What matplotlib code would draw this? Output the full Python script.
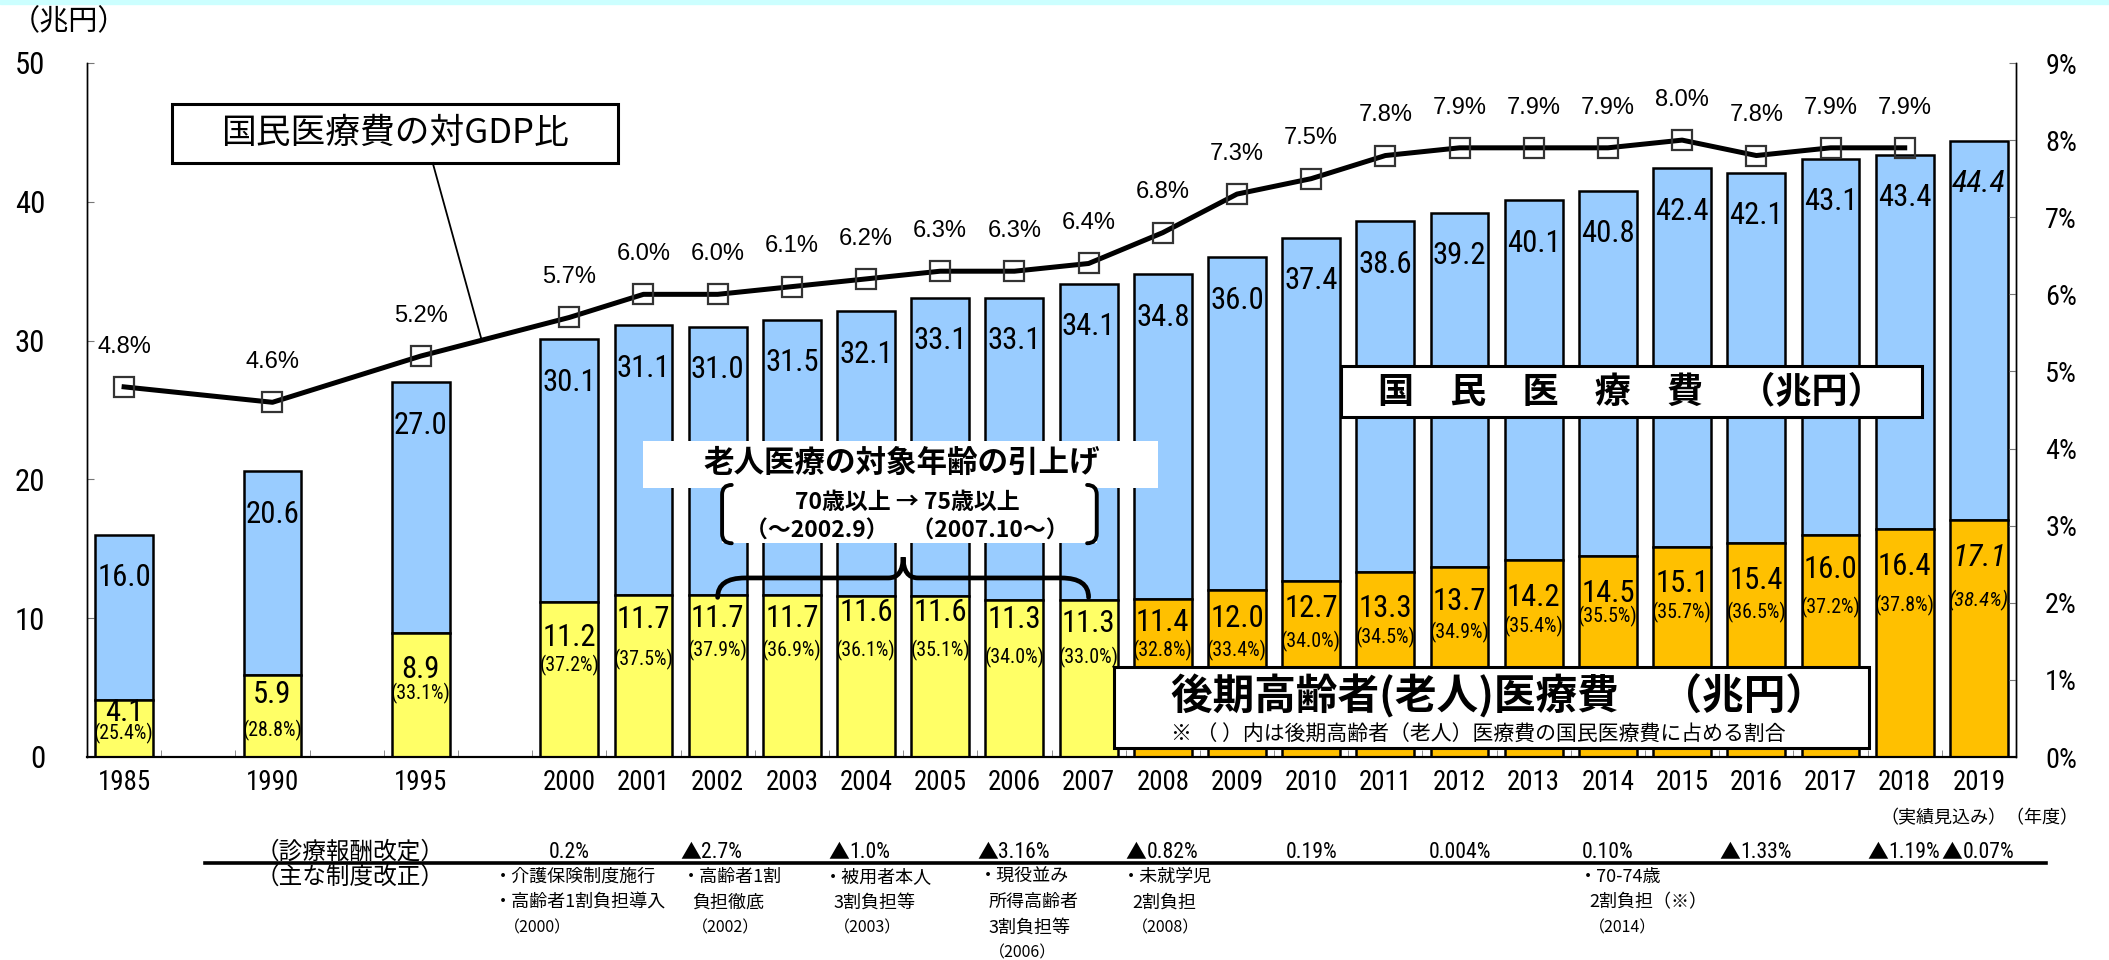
import os
import matplotlib
matplotlib.use('Agg')
import matplotlib.pyplot as plt
from matplotlib import font_manager as fm
from matplotlib.patches import Rectangle, PathPatch
from matplotlib.path import Path
from matplotlib.lines import Line2D
from matplotlib.transforms import blended_transform_factory
from matplotlib.textpath import TextToPath
import numpy as np

# ---------------- data ----------------
years = ['1985', '1990', '1995'] + [str(y) for y in range(2000, 2020)]
total = [16.0, 20.6, 27.0, 30.1, 31.1, 31.0, 31.5, 32.1, 33.1, 33.1, 34.1,
         34.8, 36.0, 37.4, 38.6, 39.2, 40.1, 40.8, 42.4, 42.1, 43.1, 43.4, 44.4]
elderly = [4.1, 5.9, 8.9, 11.2, 11.7, 11.7, 11.7, 11.6, 11.6, 11.3, 11.3,
           11.4, 12.0, 12.7, 13.3, 13.7, 14.2, 14.5, 15.1, 15.4, 16.0, 16.4, 17.1]
share = [25.4, 28.8, 33.1, 37.2, 37.5, 37.9, 36.9, 36.1, 35.1, 34.0, 33.0,
         32.8, 33.4, 34.0, 34.5, 34.9, 35.4, 35.5, 35.7, 36.5, 37.2, 37.8, 38.4]
gdp_years = years[:-1]
gdp_ratio = [4.8, 4.6, 5.2, 5.7, 6.0, 6.0, 6.1, 6.2, 6.3, 6.3, 6.4,
             6.8, 7.3, 7.5, 7.8, 7.9, 7.9, 7.9, 8.0, 7.8, 7.9, 7.9]
slot_labels = ['1985', '', '1990', '', '1995', ''] + [str(y) for y in range(2000, 2020)]
koki_start = 2008  # 後期高齢者医療制度
estimate_year = '2019'  # 実績見込み (italic)

rev_years = ['2000', '2002', '2004', '2006', '2008', '2010', '2012', '2014', '2016', '2018', '2019']
rev_rates = ['0.2%', '▲2.7%', '▲1.0%', '▲3.16%', '▲0.82%', '0.19%', '0.004%', '0.10%',
             '▲1.33%', '▲1.19%', '▲0.07%']
reform_lines = [
    ['・介護保険制度施行', '・高齢者1割負担導入', '（2000）'],
    ['・高齢者1割', '負担徹底', '（2002）'],
    ['・被用者本人', '3割負担等', '（2003）'],
    ['・現役並み', '所得高齢者', '3割負担等', '（2006）'],
    ['・未就学児', '2割負担', '（2008）'],
    ['・70-74歳', '2割負担（※）', '（2014）'],
]

# ---------------- layout (label placement) ----------------
eld_drop = [0.9, 1.4, 2.6, 2.6, 1.8, 1.7, 1.7, 1.2, 1.2, 1.4, 1.7, 1.7, 2.0, 2.0,
            2.6, 2.5, 2.7, 2.7, 2.6, 2.7, 2.5, 2.7, 2.7]
pct_gap = [1.5, 2.6, 1.7, 2.0, 2.9, 2.3, 2.3, 2.7, 2.7, 2.7, 2.4, 2.0, 2.3, 2.4,
           2.1, 2.2, 2.1, 1.7, 2.1, 2.3, 2.7, 2.8, 3.1]
reform_left_px = [494, 682, 824, 979, 1122, 1579]

W, H = 2109, 960
JP = 'Noto Sans CJK JP'
JPF = [JP, 'DejaVu Sans']


# ---------------- condensed font lookup ----------------
def find_condensed(italic=False):
    rank = [('liberation', 0), ('roboto', 1), ('noto', 2), ('open', 3), ('dejavu', 4)]
    best = None
    for f in fm.fontManager.ttflist:
        fn = os.path.basename(f.fname).lower()
        if 'cjk' in fn:
            continue
        if not ('condensed' in fn or 'narrow' in fn):
            continue
        is_it = ('italic' in fn or 'oblique' in fn)
        if is_it != italic:
            continue
        if any(k in fn for k in ('bold', 'light', 'semi', 'extra', 'ultra', 'thin',
                                 'medium', 'black')):
            continue
        r = next((v for k, v in rank if k in fn), 9)
        if best is None or r < best[0]:
            best = (r, f)
    return best[1] if best else None


cond = find_condensed()
cond_it = find_condensed(italic=True)
if cond is not None:
    FP_BASE = fm.FontProperties(fname=cond.fname)
else:
    FP_BASE = fm.FontProperties(family='Liberation Sans')
if cond_it is not None:
    FP_IT = fm.FontProperties(fname=cond_it.fname)
else:
    FP_IT = fm.FontProperties(family='Liberation Sans', style='italic')


def digit_em(fp):
    p = fp.copy()
    p.set_size(100)
    w, _, _ = TextToPath().get_text_width_height_descent('0123456789', p, ismath=False)
    return w / 1000.0


NS = min(1.1, 0.456 / digit_em(FP_BASE))
NS_IT = min(1.1, 0.456 / digit_em(FP_IT))


def numfp(size, italic=False):
    if italic:
        p = FP_IT.copy()
        p.set_size(size * NS_IT)
    else:
        p = FP_BASE.copy()
        p.set_size(size * NS)
    return p


plt.rcParams['font.family'] = ['Liberation Sans', JP, 'DejaVu Sans']

fig = plt.figure(figsize=(W / 100, H / 100), dpi=100)
fig.patches.append(Rectangle((0, 1 - 4 / H), 1, 4 / H, transform=fig.transFigure,
                             color='#CCFFFF', zorder=0))


def P(x, y):
    return (x / W, 1 - y / H)


ax = fig.add_axes([87 / W, 1 - 757 / H, (2016 - 87) / W, (757 - 63) / H])
ax.set_xlim(-0.5, len(slot_labels) - 0.5)
ax.set_ylim(0, 50)
ax2 = ax.twinx()
ax2.set_ylim(0, 9)

xs = np.array([slot_labels.index(y) for y in years])
tot = np.array(total)
eld = np.array(elderly)
eld_colors = ['#FFC000' if int(y) >= koki_start else '#FFFF66' for y in years]

ax.bar(xs, tot - eld, bottom=eld, width=0.78, color='#99CCFF', edgecolor='black',
       linewidth=1.8, zorder=2)
ax.bar(xs, eld, width=0.78, color=eld_colors, edgecolor='black', linewidth=1.8, zorder=2)

for i, y in enumerate(years):
    it = (y == estimate_year)
    ax.text(xs[i], tot[i] - 3.1, f'{tot[i]:.1f}', ha='center', va='center',
            fontproperties=numfp(24, it), zorder=3)
    ly = eld[i] - eld_drop[i]
    ax.text(xs[i], ly, f'{eld[i]:.1f}', ha='center', va='center',
            fontproperties=numfp(24, it), zorder=3)
    ax.text(xs[i], ly - pct_gap[i], f'({share[i]:.1f}%)', ha='center', va='center',
            fontproperties=numfp(15.5, it), zorder=3)

# GDP ratio line
gx = np.array([slot_labels.index(y) for y in gdp_years])
ax2.plot(gx, gdp_ratio, color='black', lw=3.6, marker='s', ms=15, mfc='none',
         mec='#333333', mew=1.6, zorder=5)
for xv, g in zip(gx, gdp_ratio):
    ax2.annotate(f'{g:.1f}%', (xv, g), xytext=(0, 29), textcoords='offset points',
                 ha='center', va='center', fontsize=17, family=['Liberation Sans', 'DejaVu Sans'])

# axes styling
for a in (ax, ax2):
    a.spines['top'].set_visible(False)
    a.spines['left'].set_linewidth(1.0)
    a.spines['right'].set_linewidth(1.0)
    a.spines['bottom'].set_linewidth(1.5)
ax.set_yticks(range(0, 51, 10))
ax.tick_params(axis='y', direction='in', length=5, color='#777777', pad=30)
for lbl in ax.get_yticklabels():
    lbl.set_fontproperties(numfp(24))
ax2.set_yticks(range(0, 10))
ax2.set_yticklabels([f'{v}%' for v in range(0, 10)])
ax2.tick_params(axis='y', direction='in', length=5, color='#777777', pad=21)
for lbl in ax2.get_yticklabels():
    lbl.set_fontproperties(numfp(22))
ax.set_xticks(range(len(slot_labels)))
ax.set_xticklabels(slot_labels)
ax.tick_params(axis='x', which='major', length=0, pad=9)
for lbl in ax.get_xticklabels():
    lbl.set_fontproperties(numfp(21))
ax.set_xticks(np.arange(-0.5, len(slot_labels), 1.0), minor=True)
ax.tick_params(axis='x', which='minor', direction='in', length=5, color='#777777')

# (兆円)
fig.text(*P(11, 22), '（兆円）', fontsize=21, family=JPF, va='center', ha='left')

# ---- GDP ratio label box with leader line ----
ax.add_patch(Rectangle((0.645, 42.8), 6.66 - 0.645, 47.05 - 42.8, facecolor='white',
                       edgecolor='black', lw=2.2, zorder=6))
ax.text(3.65, 44.95, '国民医療費の対GDP比', ha='center', va='center', fontsize=25,
        family=JPF, zorder=7)
lx = 4.82
ly_pct = np.interp(lx, gx, gdp_ratio)
ax.plot([4.16, lx], [42.8, ly_pct * 50 / 9], color='black', lw=1.3, zorder=6)

# ---- 国民医療費 label ----
ax.add_patch(Rectangle((16.4, 24.5), 24.23 - 16.4, 28.2 - 24.5, facecolor='white',
                       edgecolor='black', lw=2.2, zorder=6))
ax.text(20.31, 26.3, '国　民　医　療　費　（兆円）', ha='center', va='center',
        fontsize=26, fontweight='bold', family=JPF, zorder=7)

# ---- 後期高齢者 label ----
ax.add_patch(Rectangle((13.34, 0.65), 23.52 - 13.34, 6.47 - 0.65, facecolor='white',
                       edgecolor='black', lw=2.2, zorder=6))
ax.text(14.11, 4.4, '後期高齢者(老人)医療費　（兆円）', ha='left', va='center',
        fontsize=30, fontweight='bold', family=JPF, zorder=7)
ax.text(14.11, 1.6, '※ （ ）内は後期高齢者（老人）医療費の国民医療費に占める割合',
        ha='left', va='center', fontsize=15, family=JPF, zorder=7)

# ---- 老人医療の対象年齢の引上げ ----
x02 = slot_labels.index('2002')
x07 = slot_labels.index('2007')
xm = (x02 + x07) / 2
ax.add_patch(Rectangle((6.99, 19.4), 13.93 - 6.99, 22.8 - 19.4, facecolor='white',
                       edgecolor='none', zorder=6))
ax.add_patch(Rectangle((8.06, 15.4), 13.11 - 8.06, 19.45 - 15.4, facecolor='white',
                       edgecolor='none', zorder=6))
ax.text(10.48, 21.2, '老人医療の対象年齢の引上げ', ha='center', va='center', fontsize=22,
        fontweight='bold', family=JPF, zorder=7)
ax.text(10.55, 18.35, '70歳以上 → 75歳以上', ha='center', va='center', fontsize=16.5,
        fontweight='bold', family=JPF, zorder=7)
ax.text(10.55, 16.3, '（～2002.9）　（2007.10～）', ha='center', va='center', fontsize=16.5,
        fontweight='bold', family=JPF, zorder=7)


def bracket(xb, y0, y1, hook, r):
    verts = [(xb + hook, y1), (xb, y1), (xb, y1 - r), (xb, y0 + r), (xb, y0), (xb + hook, y0)]
    codes = [Path.MOVETO, Path.CURVE3, Path.CURVE3, Path.LINETO, Path.CURVE3, Path.CURVE3]
    return PathPatch(Path(verts, codes), facecolor='none', edgecolor='black', lw=2.8,
                     zorder=7, capstyle='round')


ax.add_patch(bracket(8.06, 15.4, 19.6, 0.13, 0.7))
ax.add_patch(bracket(13.11, 15.4, 19.6, -0.13, 0.7))

# curly brace
yb, ybar, ytip = 11.5, 12.9, 14.4
verts = [(x02, yb), (x02, ybar), (x02 + 0.37, ybar), (xm - 0.2, ybar), (xm, ybar), (xm, ytip),
         (xm, ybar), (xm + 0.2, ybar), (x07 - 0.37, ybar), (x07, ybar), (x07, yb)]
codes = [Path.MOVETO, Path.CURVE3, Path.CURVE3, Path.LINETO, Path.CURVE3, Path.CURVE3,
         Path.CURVE3, Path.CURVE3, Path.LINETO, Path.CURVE3, Path.CURVE3]
ax.add_patch(PathPatch(Path(verts, codes), facecolor='none', edgecolor='black', lw=3.4,
                       zorder=7, capstyle='round'))

# ---------------- bottom table ----------------
bt = blended_transform_factory(ax.transData, fig.transFigure)
fig.text(*P(256, 852), '（診療報酬改定）', fontsize=17, family=JPF, va='center', ha='left')
fig.text(*P(256, 877), '（主な制度改正）', fontsize=17, family=JPF, va='center', ha='left')
fig.add_artist(Line2D([205 / W, 2046 / W], [1 - 863 / H, 1 - 863 / H], color='black', lw=2.6,
                      transform=fig.transFigure))
for y, r in zip(rev_years, rev_rates):
    xv = slot_labels.index(y)
    body = r.lstrip('▲')
    if r.startswith('▲'):
        fig.text(xv - 0.22, 1 - 852 / H, '▲', transform=bt, ha='right', va='center',
                 fontsize=15, family=JPF)
        fig.text(xv - 0.22, 1 - 852 / H, body, transform=bt, ha='left', va='center',
                 fontproperties=numfp(17))
    else:
        fig.text(xv, 1 - 852 / H, body, transform=bt, ha='center', va='center',
                 fontproperties=numfp(17))
for left, lines in zip(reform_left_px, reform_lines):
    for k, t in enumerate(lines):
        is_year = t.startswith('（')
        indent = 0 if t.startswith('・') else 10
        fig.text(*P(left + indent, 877 + 25.3 * k), t, ha='left', va='center',
                 fontsize=11.5 if is_year else 13, family=JPF)
fig.text(*P(2078, 818), '（実績見込み）（年度）', ha='right', va='center', fontsize=13,
         family=JPF)

fig.savefig('out.png', dpi=100)
